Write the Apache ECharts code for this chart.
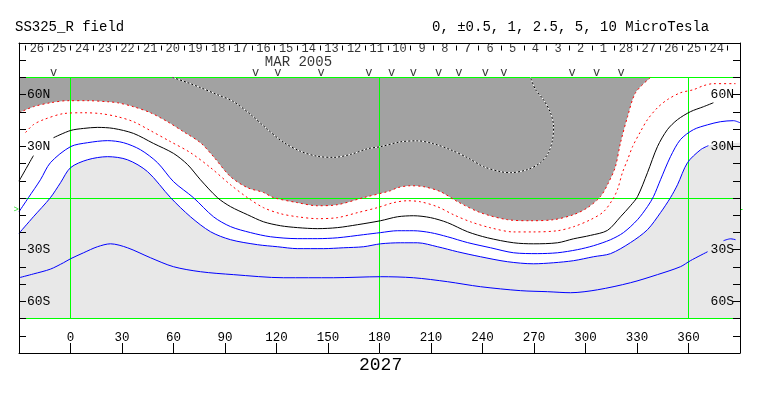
<!DOCTYPE html>
<html><head><meta charset="utf-8">
<script src="https://cdn.jsdelivr.net/npm/echarts@6/dist/echarts.min.js"></script>
<style>html,body{margin:0;padding:0;background:#fff}#c{width:763px;height:396px}</style>
</head><body><div id="c"></div>
<script>
// ---------- data (longitude, latitude) ----------
const dayLabels = ['26','25','24','23','22','21','20','19','18','17','16','15','14','13','12','11','10','9','8','7','6','5','4','3','2','1','28','27','26','25','24'];
const dayStartLon = -26.2;   // Carrington longitude of first day boundary
const dayStepLon = 13.2;     // degrees per day
const monthLabel = 'MAR 2005';
const monthLon = 132.8;
const obsLon = [-9.9, 107.8, 120.8, 146.0, 173.8, 187.1, 199.7, 214.5, 226.2, 241.6, 252.4, 292.2, 306.4, 320.8];
const gridLon = [0, 180, 360];
const gridLat = [-70, 0, 70];
const b0Lat = -6.8;
const xTicks = [0, 30, 60, 90, 120, 150, 180, 210, 240, 270, 300, 330, 360];

const grayEdge = [[-30,49.5],[-21.6,53.0],[-11.7,55.3],[-1.7,56.5],[9.9,56.5],[21.6,55.9],[27.4,55.3],[36.7,53.0],[46.6,49.5],[56.5,44.3],[65.8,38.5],[75.7,32.1],[83.3,24.0],[93.2,12.4],[103.1,6.0],[112.4,3.2],[118.3,0.2],[132.2,-2.7],[143.9,-4.5],[155.5,-3.9],[170.7,0.2],[186.4,4.2],[190.5,6.0],[198.1,7.1],[205.6,6.6],[215.5,3.7],[225.4,-2.1],[238.8,-8.5],[254.6,-12.6],[268.0,-13.2],[281.4,-12.6],[293.0,-9.7],[301.2,-5.6],[308.7,0.8],[313.4,8.9],[317.4,18.1],[320.4,32.1],[324.5,47.2],[329.2,61.2],[337.9,70]];
const plus2 = [[59.4,70],[68.2,67.0],[75.7,64.1],[85.6,60.0],[94.9,56.0],[104.9,48.5],[114.8,39.8],[124.1,32.3],[134.0,27.1],[143.9,24.2],[153.2,23.6],[163.1,25.3],[173.0,28.6],[180.6,29.8],[192.2,32.6],[202.1,33.2],[211.5,31.5],[221.4,28.0],[231.3,23.4],[240.6,18.2],[250.5,15.3],[256.3,14.7],[266.2,16.5],[273.8,20.5],[278.4,26.3],[280.8,33.8],[281.4,41.4],[279.6,49.5],[275.5,57.1],[270.9,62.9],[268.0,70]];
const plusHalf = [[-26.2,38.0],[-21.6,42.6],[-15.7,45.5],[-4.1,49.0],[7.6,49.5],[17.5,49.0],[27.4,47.2],[36.7,44.3],[46.6,39.1],[58.3,32.7],[69.9,26.3],[81.6,17.6],[93.2,7.7],[103.1,0.2],[112.4,-5.6],[122.3,-9.1],[132.2,-10.9],[143.9,-12.0],[155.5,-11.4],[167.2,-8.5],[178.8,-5.6],[188.2,-2.7],[196.3,-1.6],[203.9,-2.2],[213.8,-5.1],[223.1,-9.7],[233.0,-13.8],[244.7,-17.3],[258.1,-19.7],[269.7,-19.7],[283.7,-19.0],[293.0,-16.7],[302.9,-12.6],[310.5,-8.0],[315.7,-1.0],[318.6,4.8],[321.5,14.7],[324.5,22.2],[327.4,29.8],[332.0,38.5],[336.1,45.5],[341.9,52.4],[347.7,57.1],[355.3,61.1],[362.9,62.9],[368.7,65.2],[374.5,66.4],[387.4,66.4]];
const neutralWest = [[-30,9.8],[-21.6,24.6]];
const neutral = [[-9.9,35.0],[0,39.2],[7.6,40.4],[15.7,41.0],[25.0,40.4],[36.7,37.5],[48.3,31.7],[60.0,25.9],[68.2,19.4],[75.7,10.6],[85.6,0.2],[93.2,-5.0],[103.1,-9.7],[112.4,-13.8],[122.3,-16.1],[132.2,-17.2],[143.9,-17.8],[155.5,-17.2],[167.2,-15.5],[180.6,-13.2],[190.5,-10.9],[199.8,-10.3],[209.7,-11.4],[219.6,-14.3],[231.3,-19.6],[242.9,-23.1],[258.1,-26.0],[269.7,-26.6],[283.7,-26.0],[293.0,-23.7],[302.9,-21.7],[312.8,-18.8],[320.4,-10.9],[326.2,-4.5],[330.3,0.8],[336.1,14.7],[341.9,29.8],[347.7,39.7],[353.6,45.5],[361.1,50.1],[368.7,53.0],[374.5,55.3]];
const minusHalf = [[-30,-8.0],[-24.5,0.2],[-17.5,10.6],[-11.7,20.5],[0,29.8],[9.9,32.1],[21.6,33.3],[30.9,32.1],[40.8,28.0],[50.7,20.5],[60.0,9.5],[71.6,0.2],[83.3,-10.9],[93.2,-16.6],[104.9,-20.1],[116.5,-22.5],[132.2,-23.6],[143.9,-23.6],[155.5,-23.1],[170.7,-21.3],[180.6,-20.1],[190.5,-19.0],[199.8,-19.0],[209.7,-20.1],[219.6,-22.5],[231.3,-25.9],[244.7,-28.9],[258.1,-31.8],[272.0,-32.3],[283.7,-31.8],[295.3,-30.0],[304.7,-27.7],[314.6,-24.2],[322.1,-20.1],[330.3,-12.6],[336.1,-5.0],[339.6,0.8],[343.7,10.6],[349.5,24.0],[355.3,33.9],[362.9,39.7],[371.1,42.5],[378.6,44.3],[386.2,44.9],[390,43.7]];
const minusOne = [[-30,-20.5],[-21.6,-10.9],[-11.7,0.2],[-5.8,8.9],[0,17.6],[9.9,22.2],[21.6,24.0],[33.2,22.2],[44.9,15.3],[58.3,0.2],[69.9,-10.9],[81.6,-19.6],[93.2,-24.2],[108.9,-27.1],[120.6,-28.3],[132.2,-29.4],[147.4,-29.4],[159.0,-28.9],[170.7,-28.3],[180.6,-26.6],[192.2,-26.0],[202.1,-26.0],[213.8,-28.3],[225.4,-31.2],[238.8,-34.1],[254.6,-37.0],[269.7,-38.2],[281.4,-37.6],[293.0,-36.4],[304.7,-34.1],[314.6,-32.3],[326.2,-25.9],[336.1,-18.4],[343.7,-8.5],[349.5,0.2],[353.6,7.7],[359.4,20.5],[367.0,28.0],[371.6,30.4]];
const minusOneEdgeEast = [[380,31.6],[390,32.1]];
const minus25 = [[-30,-46.3],[-21.6,-44.1],[-11.7,-41.3],[-4.1,-37.6],[0,-35.3],[7.6,-31.8],[15.7,-28.3],[23.3,-26.6],[33.2,-28.9],[46.6,-34.7],[60.0,-39.9],[75.7,-42.8],[94.9,-44.5],[124.1,-46.3],[153.2,-46.3],[180.6,-45.7],[199.8,-46.3],[219.6,-48.6],[238.8,-51.5],[262.1,-53.8],[277.9,-54.4],[291.3,-55.0],[307.0,-53.3],[326.2,-49.2],[341.9,-44.5],[355.3,-39.9],[361.1,-36.4],[371.1,-31.2]];
const minus25East = [[380.4,-24.8],[384.5,-23.7],[387.4,-24.2]];

// ---------- chart ----------
const LON_MIN = -30, LON_MAX = 390, LAT_MIN = -90, LAT_MAX = 90;
const FONT = '"Liberation Mono","DejaVu Sans Mono",monospace';
const SMOOTH = 0.3;
const boxTop = Math.max(...gridLat), boxBot = Math.min(...gridLat);
const crisp = v => Math.round(v - 0.5) + 0.5;

function lineSeries(data, color, type, z) {
  return { type: 'line', data, symbol: 'none', showSymbol: false, silent: true, clip: true, smooth: SMOOTH,
    z: z || 3, lineStyle: { color, width: 1, type: type || 'solid' } };
}
function fillSeries(data, color, origin) {
  return { type: 'line', data, symbol: 'none', showSymbol: false, silent: true, clip: true, smooth: SMOOTH,
    z: 1, lineStyle: { width: 0, opacity: 0 }, areaStyle: { color, opacity: 1, origin } };
}
function textSeries(items, fontSize, color, extra) {
  return Object.assign({ type: 'scatter', symbolSize: 0, silent: true, z: 5, data: items,
    label: { show: true, position: 'inside', formatter: '{b}', color: color || '#000',
      fontFamily: FONT, fontSize } }, extra || {});
}
// straight reference lines drawn through the axis scales, snapped to whole pixels
function segSeries(segs, color, z) {
  return { type: 'custom', coordinateSystem: 'cartesian2d', silent: true, clip: false, z,
    data: segs.map((s, i) => [s[0][0], s[0][1], i]),
    renderItem: (params, api) => {
      const s = segs[params.dataIndex];
      const a = api.coord(s[0]), b = api.coord(s[1]);
      return { type: 'line', shape: { x1: crisp(a[0]), y1: crisp(a[1]), x2: crisp(b[0]), y2: crisp(b[1]) },
        style: { stroke: color, lineWidth: 1 } };
    } };
}

const series = [
  fillSeries(grayEdge, '#a2a2a2', boxTop),
  fillSeries(minusOne.concat(minusOneEdgeEast), '#e8e8e8', boxBot)
];
const greenSegs = gridLon.map(l => [[l, boxBot], [l, boxTop]])
  .concat(gridLat.map(l => [[LON_MIN, l], [LON_MAX, l]]));
series.push(segSeries(greenSegs, '#00ff00', 2));
series.push(lineSeries(plus2, '#ffffff'));
series.push(lineSeries(plus2, '#000000', [2, 2], 4));
series.push(lineSeries(grayEdge, '#ff0000', [2, 3], 4));
series.push(lineSeries(plusHalf, '#ff0000', [2, 3]));
series.push(lineSeries(neutralWest, '#000000'));
series.push(lineSeries(neutral, '#000000'));
series.push(lineSeries(minusHalf, '#0000ff'));
series.push(lineSeries(minusOne, '#0000ff'));
series.push(lineSeries(minus25, '#0000ff'));
series.push(lineSeries(minus25East, '#0000ff'));

// day boundary ticks and day labels along the top strip
const daySegs = [];
for (let k = 0; k <= dayLabels.length; k++) {
  const lon = dayStartLon + k * dayStepLon;
  daySegs.push([[lon, 88.4], [lon, 85.5]]);
}
series.push(segSeries(daySegs, '#000000', 5));
series.push(textSeries(dayLabels.map((d, k) => ({ name: d, value: [dayStartLon + (k + 0.5) * dayStepLon, 86.4] })), 12));
series.push(textSeries([{ name: monthLabel, value: [monthLon, 78.6] }], 14));
series.push(textSeries(obsLon.map(l => ({ name: 'v', value: [l, 72.6] })), 12));
series.push(textSeries([{ name: '>', value: [LON_MIN, b0Lat] }], 9, '#00ff00',
  { label: { show: true, position: 'left', distance: 0, formatter: '{b}', color: '#00d000', fontFamily: FONT, fontSize: 9 } }));
series.push(segSeries([[[LON_MAX, b0Lat], [LON_MAX + 1.5, b0Lat]]], '#00ff00', 5));

const latFmt = v => v === 60 ? '60N' : v === 30 ? '30N' : v === -30 ? '30S' : v === -60 ? '60S' : '';
const yCommon = (pos, margin) => ({ type: 'value', min: LAT_MIN, max: LAT_MAX, interval: 10, position: pos, z: 10,
  axisLine: { show: true, onZero: false, lineStyle: { color: '#000', width: 1 } },
  axisTick: { show: true, inside: true, length: 7, lineStyle: { color: '#000', width: 1 } },
  axisLabel: { show: true, inside: true, margin, color: '#000', fontFamily: FONT, fontSize: 13, formatter: latFmt },
  splitLine: { show: false } });

const option = {
  animation: false,
  backgroundColor: '#ffffff',
  title: [
    { text: 'SS325_R field', left: 15, top: 20, padding: 0, textStyle: { fontFamily: FONT, fontSize: 14, fontWeight: 'normal', color: '#000' } },
    { text: '0, ±0.5, 1, 2.5, 5, 10 MicroTesla', left: 432, top: 20, padding: 0, textStyle: { fontFamily: FONT, fontSize: 14, fontWeight: 'normal', color: '#000' } },
    { text: '2027', left: 359, top: 356, padding: 0, textStyle: { fontFamily: FONT, fontSize: 18, fontWeight: 'normal', color: '#000' } }
  ],
  grid: { left: 19, right: 23, top: 43, bottom: 43, outerBoundsMode: 'none', containLabel: false },
  xAxis: [
    { type: 'value', min: LON_MIN, max: LON_MAX, interval: 30, position: 'bottom', z: 10,
      axisLine: { show: true, onZero: false, lineStyle: { color: '#000', width: 1 } },
      axisTick: { show: true, inside: true, length: 10, lineStyle: { color: '#000', width: 1 } },
      axisLabel: { show: true, inside: true, margin: 9, color: '#000', fontFamily: FONT, fontSize: 12.5,
        formatter: v => xTicks.includes(v) ? String(v) : '' },
      splitLine: { show: false } },
    { type: 'value', min: LON_MIN, max: LON_MAX, position: 'top', z: 10,
      axisLine: { show: true, onZero: false, lineStyle: { color: '#000', width: 1 } },
      axisTick: { show: false }, axisLabel: { show: false }, splitLine: { show: false } }
  ],
  yAxis: [yCommon('left', 8), yCommon('right', 6)],
  series
};
const chart = echarts.init(document.getElementById('c'), null, { renderer: 'canvas' });
chart.setOption(option);
</script></body></html>
